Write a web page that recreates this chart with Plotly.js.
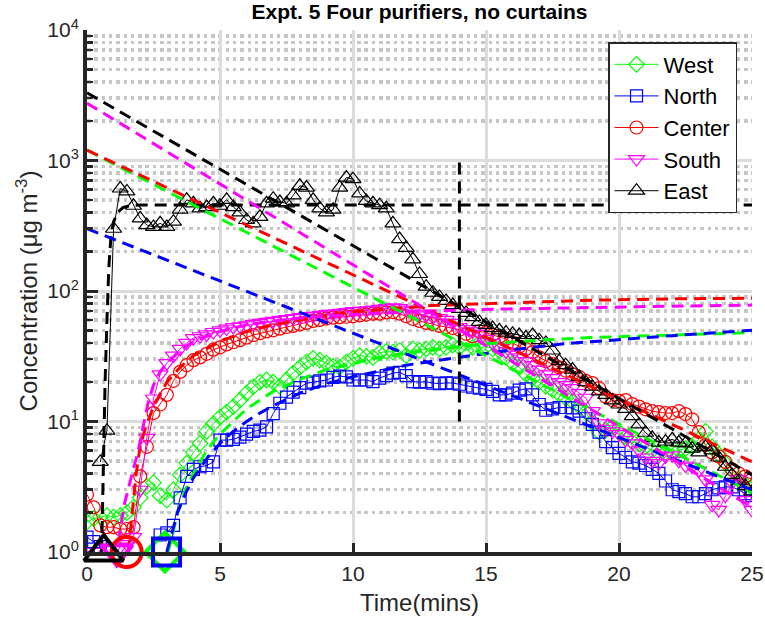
<!DOCTYPE html>
<html><head><meta charset="utf-8">
<script src="https://cdn.plot.ly/plotly-3.0.1.min.js"></script>
<style>html,body{margin:0;padding:0;background:#fff;}#chart{width:765px;height:625px;}</style>
</head><body><div id="chart"></div>
<script>
const time = [0,0.25,0.5,0.75,1,1.25,1.5,1.75,2,2.25,2.5,2.75,3,3.25,3.5,3.75,4,4.25,4.5,4.75,5,5.25,5.5,5.75,6,6.25,6.5,6.75,7,7.25,7.5,7.75,8,8.25,8.5,8.75,9,9.25,9.5,9.75,10,10.25,10.5,10.75,11,11.25,11.5,11.75,12,12.25,12.5,12.75,13,13.25,13.5,13.75,14,14.25,14.5,14.75,15,15.25,15.5,15.75,16,16.25,16.5,16.75,17,17.25,17.5,17.75,18,18.25,18.5,18.75,19,19.25,19.5,19.75,20,20.25,20.5,20.75,21,21.25,21.5,21.75,22,22.25,22.5,22.75,23,23.25,23.5,23.75,24,24.25,24.5,24.75,25];

const west = [1.7,1.8,1.85,1.9, 1.85,1.9,2.0,2.2, 2.6,3.2,3.4,2.7, 2.5,3.0,3.9,4.8, 5.8,6.8,8.4,9.6, 10.8,11.8,13.0,14.6, 16.5,18.4,20.0,20.8, 20.0,18.6,20.8,23.5, 26,28.5,30.5,29.5, 28,26.5,26,28.5, 30.5,32,31.5,31, 33.5,34.5,34,35, 32,36,35,36, 37,36,37,38.5, 37,35,37,40, 37.5,36,35,31, 28,26,23,21.3, 20,18.6,17.5,16.2, 15.1,14.2,13,11.8, 9.7,8.3,8.6,9.1, 8.3,7.6,7.0,6.7, 6.4,6.0,5.7,5.8, 5.9,6.0,6.2,6.4, 7.3,8.4,6.4,5.6, 4.8,4.2,3.6,3.3, 3.1];

const north = [1.3,1.2,1.1,null, null,null,null,null, null,null,null,1.35, 1.4,1.6,2.6,3.8, 4.3,4.5,4.6,4.9, 7.2,7.2,7.3,7.6, 8.0,8.4,8.6,9.1, 11.5,13.8,15.4,16.8, 18.2,19.7,20,20.5, 20.8,21.8,22.3,22, 20.8,20.8,20.8,20.2, 21.5,22.5,23.5,23.8, 22.5,20.2,20,20.2, 19.7,19.5,19.8,19.7, 19.3,18.7,18.3,18, 17.6,17,16,16, 16.5,17.4,17.8,16, 13.5,12.2,12.5,12.8, 12.8,12.7,12,10.5, 9.5,8.3,7,6.3, 5.7,5.3,4.9,4.8, 4.6,4.3,4.0,3.5, 3.0,2.9,2.8,2.65, 2.65,2.8,3.0,3.1, 3.15,3.15,3.0,2.8, 2.7];

const center = [2.75,2.2,1.6,1.55, 1.55,1.5,1.5,1.55, 3.8,6.4,11.6,13.5, 16,20.5,24,27, 29.5,31,33,35.5, 37,39,40.5,42, 44,46,47.5,49, 50,51.5,53,54, 55.5,57,59,60, 61.5,62.5,63,63.5, 64,65,66,67, 67,68.5,69,67, 64,61,59,57, 56,54,53,52, 50.5,47,45,49, 48,46,44.5,43, 40,37.5,36,34, 31,29,27.5,26, 24.5,23,22,20.5, 19.7,18,15.5,14.6, 14.4,14.6,13.6,13, 12.4,12,11.8,11.6, 11.6,12,11.4,10.4, 8.3,6.6,5.8,5.4, 4.9,4.3,4.0,3.8, 3.6];

const south = [1.0,1.0,0.95,0.95, 0.9,1.1,1.15,1.3, 3.0,7.5,15,23, 28,32,36,40, 43.5,45,46.5,48.5, 50,51.5,53,53.5, 54.5,56,57,58, 59,60,61,62, 63,64,64.5,65.5, 66.5,67,68,69, 70,70.5,71,72, 73,74,75,74, 72,70,67,65, 63,62,60,57, 53,51,49,47, 43,40,37,34.5, 32.5,31,29,27, 25,23,21.5,20, 19,18,16.5,15.2, 12,9.7,8.8,8.4, 8.0,7.2,6.8,6.0, 5.3,5.0,4.8,5.4, 5.5,5.0,4.6,4.5, 4.2,3.6,2.3,2.1, 2.7,3.4,3.6,2.5, 2.1];

const east = [null,null,4.9,8.5, 300,610,580,450, 360,320,310,330, 310,340,420,500, 470,430,440,470, 450,500,440,400, 350,330,370,470, 510,480,470,540, 640,620,500,430, 400,420,620,740, 720,560,490,470, 455,430,330,250, 214,175,135,108, 97,90,84,78, 73,68,63,58, 55,52,50,48, 47,46,44,46, 42,40,35,29, 27,25,22,20, 18.5,17,16,14.5, 13.5,12.5,11,9.5, 8.2,7.5,6.9,7.0, 7.3,6.9,6.8,6.2, 5.8,6.4,6.0,5.3, 4.5,3.9,3.5,3.2, 2.9];

// fitted curves (dashed)
const eastRiseT = [0.55,0.62,0.68,0.75,0.82,0.9,1.0,1.15,1.35,1.6,2.0,25];
const eastRiseV = [1,6,20,60,150,260,340,400,435,450,456,456];
const centerRiseT = [1.55,1.65,1.75,1.85,2.0,2.2,2.5,2.8,3.0,3.5,4,5,6,7,8,9,10,11,12,13,15,17,19,22,25];
const centerRiseV = [1,1.5,2.5,4,6.5,9,13,17,20,26,32,41,49,55,60,65,69,72,75,77.5,80,82.5,85,87,88];
const southRiseT = [1.1,1.25,1.4,1.55,1.7,1.85,2.0,2.15,2.3,2.5,2.75,3.0,3.5,4,5,6,7,8,10,12,13.5,16,19,22,25];
const southRiseV = [0.85,1.5,2.3,3.1,4.0,5.2,7.0,10,14,19,24,28,35,41,49,55,59,62,66,69,71,73,75,76.5,78];
const westRiseT = [3.05,3.2,3.35,3.5,3.7,4,4.5,5,5.5,6,7,8,9,10,11,12,13,14,15,17,19,22,25];
const westRiseV = [1,1.3,1.8,2.3,3,4,6,8,10,12.5,17,21,25,28,31,33.5,35.5,37.5,39.5,42,44,46,48];
const northRiseT = [3.0,3.2,3.4,3.7,4.0,4.5,5,5.5,6,6.5,7,8,9,10,11,12,13,14,16,18,20,22,25];
const northRiseV = [1,1.4,2,2.8,3.7,5.2,6.8,8.4,10,11.6,13.2,16.5,19.5,22,24.5,27,29,31,35.5,39.5,42.5,45.5,50];

const decayT = [0,25];
const eastDecayV = [3300,3.9];
const southDecayV = [2750,2.2];
const centerDecayV = [1200,4.9];
const westDecayV = [1200,2.85];
const northDecayV = [300,3.0];

const markT = [14,14];
const markV = [10,1000];

// start markers, in series order West, North, Center, South, East
const startT = [2.93,2.99,1.49,1.12,0.63];
const startV = [1,1,1,1,1];

const names = ['West','North','Center','South','East'];
const colors = ['#00ff00','#0000ff','#ff0000','#ff00ff','#000000'];
const symbols = ['diamond-open','square-open','circle-open','triangle-down-open','triangle-up-open'];
const msizes = [12,12,13,14,14];
const series = [west,north,center,south,east];

const traces = [];
for (let i=0;i<5;i++){
  traces.push({x:time,y:series[i],name:names[i],mode:'lines+markers',
    line:{color:colors[i],width:1},
    marker:{symbol:symbols[i],size:msizes[i],color:colors[i],line:{width:1.2}},
    hoverinfo:'skip'});
}
const dashStyle = '12px,7px';
function fit(x,y,c){traces.push({x:x,y:y,mode:'lines',showlegend:false,hoverinfo:'skip',line:{color:c,width:3,dash:dashStyle}});}
fit(westRiseT,westRiseV,colors[0]);
fit(northRiseT,northRiseV,colors[1]);
fit(centerRiseT,centerRiseV,colors[2]);
fit(southRiseT,southRiseV,colors[3]);
fit(eastRiseT,eastRiseV,colors[4]);
fit(decayT,westDecayV,colors[0]);
fit(decayT,northDecayV,colors[1]);
fit(decayT,centerDecayV,colors[2]);
fit(decayT,southDecayV,colors[3]);
fit(decayT,eastDecayV,colors[4]);
fit(markT,markV,'#000000');

// big start markers: drawn green, magenta, red, blue, black
const bigOrder = [0,3,2,1,4];
const bigSizes = [30,27,30,27,34];
bigOrder.forEach(function(i){
  traces.push({x:[startT[i]],y:[startV[i]],mode:'markers',showlegend:false,hoverinfo:'skip',cliponaxis:false,
    marker:{symbol:symbols[i],size:bigSizes[i],color:colors[i],line:{width:4}}});
});

const minorVals = [];
[1,10,100,1000].forEach(function(d){for(let k=2;k<=9;k++) minorVals.push(k*d);});

const layout = {
  width:765,height:625,
  margin:{l:87,r:13,t:30,b:73},
  paper_bgcolor:'#ffffff',plot_bgcolor:'#ffffff',
  font:{family:'"Liberation Sans", Arial, sans-serif',size:20,color:'#262626'},
  title:{text:'Expt. 5 Four purifiers, no curtains',font:{size:21,weight:'bold',color:'#000000'},
    x:0.5,xref:'paper',xanchor:'center',y:0.981,yref:'container',yanchor:'middle'},
  xaxis:{range:[0,25],tickmode:'array',tickvals:[0,5,10,15,20,25],ticks:'inside',ticklen:9,tickwidth:3,tickcolor:'#262626',
    showline:true,linewidth:4,linecolor:'#262626',showgrid:true,gridcolor:'#dcdcdc',gridwidth:3,zeroline:false,
    tickfont:{size:21},title:{text:'Time(mins)',font:{size:24},standoff:11}},
  yaxis:{type:'log',range:[0,4],tickmode:'array',tickvals:[1,10,100,1000,10000],
    ticktext:['10<sup>0</sup>','10<sup>1</sup>','10<sup>2</sup>','10<sup>3</sup>','10<sup>4</sup>'],
    ticks:'inside',ticklen:11,tickwidth:3,tickcolor:'#262626',
    showline:true,linewidth:4,linecolor:'#262626',showgrid:true,gridcolor:'#dcdcdc',gridwidth:3,zeroline:false,
    tickfont:{size:21},
    minor:{tickmode:'array',tickvals:minorVals,ticks:'inside',ticklen:6,tickwidth:2.5,tickcolor:'#262626',
      showgrid:true,gridcolor:'#c6c6c6',gridwidth:3.5,griddash:'3.5px,3.8px'},
    title:{text:'Concentration (\u03bcg m<sup>-3</sup>)',font:{size:24},standoff:4}},
  legend:{x:0.7835,y:0.977,xanchor:'left',yanchor:'top',bgcolor:'#ffffff',bordercolor:'#262626',borderwidth:1.5,
    font:{size:22,color:'#000000'},itemwidth:44},
  showlegend:true
};
Plotly.newPlot('chart',traces,layout,{staticPlot:true,displayModeBar:false});
</script></body></html>
